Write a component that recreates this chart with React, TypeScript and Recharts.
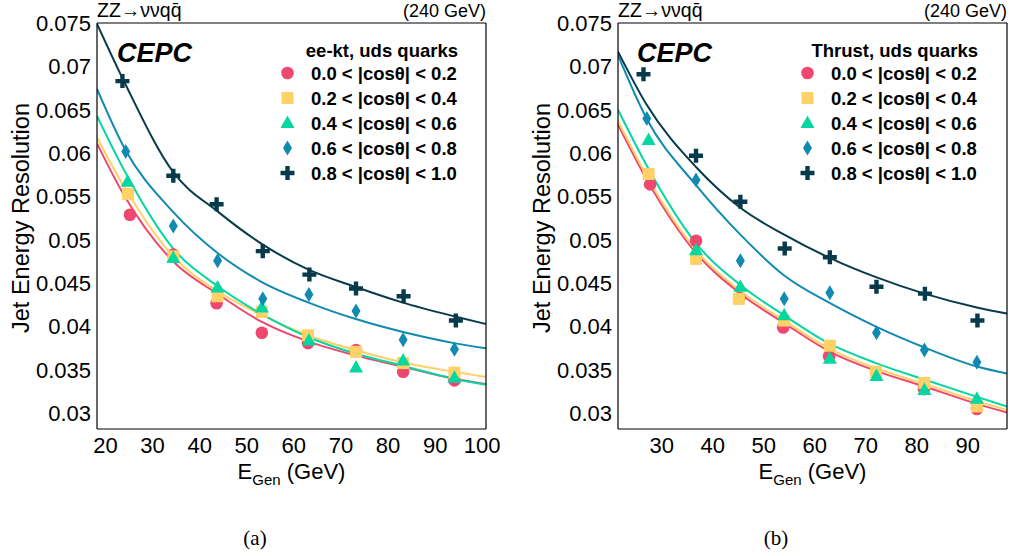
import { ComposedChart, Line, Scatter, XAxis, YAxis } from "recharts"

const COS_BINS = [
  "0.0 < |cosθ| < 0.2",
  "0.2 < |cosθ| < 0.4",
  "0.4 < |cosθ| < 0.6",
  "0.6 < |cosθ| < 0.8",
  "0.8 < |cosθ| < 1.0",
]

// (a) ee-kt: measured points, E_Gen (GeV) and resolution
const EKT_E_0 = [25.2, 34.4, 43.6, 53.2, 63.0, 73.2, 83.2, 94.1]
const EKT_R_0 = [0.0529, 0.0483, 0.0427, 0.0393, 0.0381, 0.0373, 0.0348, 0.0338]
const EKT_E_1 = [24.8, 34.4, 43.8, 53.2, 63.0, 73.2, 83.2, 94.1]
const EKT_R_1 = [0.0553, 0.0481, 0.0435, 0.0417, 0.039, 0.0371, 0.0358, 0.0347]
const EKT_E_2 = [24.7, 34.4, 43.8, 53.2, 63.2, 73.2, 83.2, 94.1]
const EKT_R_2 = [0.0567, 0.0479, 0.0445, 0.0422, 0.0384, 0.0353, 0.0361, 0.0341]
const EKT_E_3 = [24.3, 34.4, 43.8, 53.4, 63.2, 73.2, 83.2, 94.1]
const EKT_R_3 = [0.0602, 0.0516, 0.0476, 0.0432, 0.0437, 0.0418, 0.0385, 0.0374]
const EKT_E_4 = [23.6, 34.4, 43.6, 53.4, 63.3, 73.2, 83.3, 94.4]
const EKT_R_4 = [0.0683, 0.0574, 0.0541, 0.0487, 0.046, 0.0444, 0.0435, 0.0407]

// (a) fitted curves, read at these energies
const EKT_FIT_E = [18.2, 24, 34.4, 44, 53, 63, 73, 83, 94, 100.8]
const EKT_FIT_0 = [0.0611, 0.0551, 0.0475, 0.0437, 0.0406, 0.0383, 0.0367, 0.0354, 0.034, 0.0334]
const EKT_FIT_1 = [0.0618, 0.0561, 0.0481, 0.044, 0.0414, 0.039, 0.0373, 0.0359, 0.0348, 0.0342]
const EKT_FIT_2 = [0.0643, 0.058, 0.049, 0.0446, 0.0415, 0.0388, 0.0369, 0.0355, 0.034, 0.0333]
const EKT_FIT_3 = [0.0674, 0.0606, 0.0532, 0.0484, 0.0452, 0.0428, 0.0409, 0.0394, 0.0381, 0.0375]
const EKT_FIT_4 = [0.0749, 0.0682, 0.0578, 0.0532, 0.0496, 0.0466, 0.0446, 0.0428, 0.0412, 0.0403]

// (b) Thrust: measured points
const THR_E_0 = [27.7, 36.7, 45.2, 53.8, 62.8, 72.0, 81.4, 91.8]
const THR_R_0 = [0.0564, 0.0499, 0.0433, 0.0399, 0.0366, 0.0347, 0.0328, 0.0305]
const THR_E_1 = [27.4, 36.7, 45.1, 54.0, 62.95, 72.0, 81.5, 91.8]
const THR_R_1 = [0.0576, 0.0478, 0.0432, 0.0407, 0.0378, 0.0348, 0.0335, 0.0308]
const THR_E_2 = [27.4, 36.7, 45.4, 54.0, 62.95, 72.1, 81.5, 91.8]
const THR_R_2 = [0.0615, 0.0488, 0.0446, 0.0413, 0.0363, 0.0343, 0.0327, 0.0317]
const THR_E_3 = [27.05, 36.7, 45.4, 54.0, 62.95, 72.1, 81.5, 91.8]
const THR_R_3 = [0.064, 0.0569, 0.0476, 0.0432, 0.0439, 0.0393, 0.0373, 0.0359]
const THR_E_4 = [26.4, 36.7, 45.4, 54.1, 62.95, 72.1, 81.6, 91.9]
const THR_R_4 = [0.0691, 0.0597, 0.0544, 0.049, 0.048, 0.0446, 0.0438, 0.0407]

// (b) fitted curves
const THR_FIT_E = [21.4, 27, 36.7, 45.4, 54, 63, 72, 81.5, 91.8, 97.7]
const THR_FIT_0 = [0.0633, 0.057, 0.0485, 0.0438, 0.0404, 0.0371, 0.0349, 0.0331, 0.0311, 0.0301]
const THR_FIT_1 = [0.0637, 0.0574, 0.0488, 0.0441, 0.0407, 0.0374, 0.0352, 0.0334, 0.0314, 0.0304]
const THR_FIT_2 = [0.065, 0.0586, 0.0496, 0.0448, 0.0413, 0.038, 0.0358, 0.0339, 0.0319, 0.0308]
const THR_FIT_3 = [0.0713, 0.064, 0.0563, 0.0506, 0.0459, 0.0427, 0.04, 0.0376, 0.0354, 0.0346]
const THR_FIT_4 = [0.0717, 0.0656, 0.0584, 0.0537, 0.0506, 0.0479, 0.0457, 0.0438, 0.0422, 0.0415]

const Y_TICKS = [0.03, 0.035, 0.04, 0.045, 0.05, 0.055, 0.06, 0.065, 0.07, 0.075]
const X_TICKS_A = [20, 30, 40, 50, 60, 70, 80, 90, 100]
const X_TICKS_B = [30, 40, 50, 60, 70, 80, 90]

const Y_DOMAIN: [number, number] = [0.0282, 0.075]

const COLORS = ["#ef476f", "#ffd166", "#06d6a0", "#118ab2", "#073b4c"]
const MARKERS = ["circle", "square", "triangle", "diamond", "cross"]

const FONT = '"Liberation Sans", Arial, sans-serif'

const range = (a: number, b: number, step: number) =>
  Array.from({ length: Math.round((b - a) / step) + 1 }, (_, i) => +(a + i * step).toFixed(4))

const Y_MINOR = range(0.029, 0.075, 0.001)

const zip = (e: number[], v: number[]) => e.map((x, i) => ({ e: x, v: v[i] }))

function drawMarker(kind: string, x: number, y: number, color: string) {
  switch (kind) {
    case "circle":
      return <circle cx={x} cy={y} r={6.3} fill={color} />
    case "square":
      return <rect x={x - 6} y={y - 6} width={12} height={12} fill={color} />
    case "triangle":
      return <polygon points={`${x},${y - 7.5} ${x + 7},${y + 5} ${x - 7},${y + 5}`} fill={color} />
    case "diamond":
      return <polygon points={`${x},${y - 7.5} ${x + 4.5},${y} ${x},${y + 7.5} ${x - 4.5},${y}`} fill={color} />
    default:
      return (
        <path
          d={`M${x - 2.2},${y - 7} h4.4 v4.8 h4.8 v4.4 h-4.8 v4.8 h-4.4 v-4.8 h-4.8 v-4.4 h4.8 z`}
          fill={color}
        />
      )
  }
}

interface PanelProps {
  x0: number
  width: number
  margin: { top: number; right: number; bottom: number; left: number }
  xDomain: [number, number]
  xTicks: number[]
  xMinor: number[]
  points: { e: number; v: number }[][]
  fitE: number[]
  fits: number[][]
  legendTitle: string
  caption: string
  captionX: number
}

const THIN = 0.01

function Panel({ x0, width, margin, xDomain, xTicks, xMinor, points, fitE, fits, legendTitle, caption, captionX }: PanelProps) {
  const plotLeft = margin.left + 90
  const plotRight = width - margin.right
  const frame = { stroke: "#000", strokeWidth: 1.2 }
  const tl = { stroke: "#000", strokeWidth: 1.1 }

  const xTitle = ({ viewBox }: any) => (
    <text x={viewBox.x + viewBox.width / 2} y={viewBox.y + 50} textAnchor="middle" fontSize={22} fontFamily={FONT} fill="#000">
      E<tspan dy={6} fontSize={15}>Gen</tspan>
      <tspan dy={-6}> (GeV)</tspan>
    </text>
  )
  const yTitle = ({ viewBox }: any) => {
    const cx = viewBox.x + 14
    const cy = viewBox.y + 195
    return (
      <text x={cx} y={cy} transform={`rotate(-90 ${cx} ${cy})`} textAnchor="middle" dominantBaseline="central" fontSize={23.5} fontFamily={FONT} fill="#000">
        Jet Energy Resolution
      </text>
    )
  }

  return (
    <div style={{ position: "absolute", left: x0, top: 0, width, height: 556 }}>
      <ComposedChart width={width} height={500} margin={margin}>
        {/* frame with inward ticks */}
        <XAxis xAxisId="bMaj" orientation="bottom" mirror type="number" domain={xDomain} allowDataOverflow ticks={xTicks} interval={0} tick={false} tickSize={11} height={THIN} axisLine={frame} tickLine={tl} />
        <XAxis xAxisId="bMin" orientation="bottom" mirror type="number" domain={xDomain} allowDataOverflow ticks={xMinor} interval={0} tick={false} tickSize={5} height={THIN} axisLine={false} tickLine={tl} />
        <XAxis xAxisId="tMaj" orientation="top" mirror type="number" domain={xDomain} allowDataOverflow ticks={xTicks} interval={0} tick={false} tickSize={11} height={THIN} axisLine={frame} tickLine={tl} />
        <XAxis xAxisId="tMin" orientation="top" mirror type="number" domain={xDomain} allowDataOverflow ticks={xMinor} interval={0} tick={false} tickSize={5} height={THIN} axisLine={false} tickLine={tl} />
        <YAxis yAxisId="lMaj" orientation="left" mirror type="number" domain={Y_DOMAIN} allowDataOverflow ticks={Y_TICKS} interval={0} tick={false} tickSize={12} width={THIN} axisLine={frame} tickLine={tl} />
        <YAxis yAxisId="lMin" orientation="left" mirror type="number" domain={Y_DOMAIN} allowDataOverflow ticks={Y_MINOR} interval={0} tick={false} tickSize={6} width={THIN} axisLine={false} tickLine={tl} />
        <YAxis yAxisId="rMaj" orientation="right" mirror type="number" domain={Y_DOMAIN} allowDataOverflow ticks={Y_TICKS} interval={0} tick={false} tickSize={12} width={THIN} axisLine={frame} tickLine={tl} />
        <YAxis yAxisId="rMin" orientation="right" mirror type="number" domain={Y_DOMAIN} allowDataOverflow ticks={Y_MINOR} interval={0} tick={false} tickSize={6} width={THIN} axisLine={false} tickLine={tl} />

        <XAxis
          xAxisId="main"
          dataKey="e"
          type="number"
          domain={xDomain}
          allowDataOverflow
          ticks={xTicks}
          interval={0}
          tickLine={false}
          axisLine={false}
          tickSize={0}
          tickMargin={8}
          height={60}
          tick={{ fontSize: 22, fill: "#000", fontFamily: FONT }}
          label={xTitle}
        />
        <YAxis
          yAxisId="main"
          dataKey="v"
          type="number"
          domain={Y_DOMAIN}
          allowDataOverflow
          ticks={Y_TICKS}
          interval={0}
          tickLine={false}
          axisLine={false}
          tickSize={0}
          tickMargin={6}
          width={90}
          tick={{ fontSize: 22, fill: "#000", fontFamily: FONT }}
          label={yTitle}
        />

        {fits.map((f, i) => (
          <Line
            key={`fit${i}`}
            xAxisId="main"
            yAxisId="main"
            data={zip(fitE, f)}
            dataKey="v"
            type="monotone"
            stroke={COLORS[i]}
            strokeWidth={2}
            dot={false}
            activeDot={false}
            isAnimationActive={false}
          />
        ))}
        {points.map((p, i) => (
          <Scatter
            key={`pts${i}`}
            xAxisId="main"
            yAxisId="main"
            data={p}
            dataKey="v"
            fill={COLORS[i]}
            shape={(props: any) => drawMarker(MARKERS[i], props.cx, props.cy, COLORS[i])}
            isAnimationActive={false}
          />
        ))}
      </ComposedChart>

      <svg width={width} height={556} style={{ position: "absolute", left: 0, top: 0, pointerEvents: "none" }}>
        <text x={plotLeft} y={17} fontSize={19.5} fontFamily={FONT} fill="#000">
          {"ZZ→ννqq\u0304"}
        </text>
        <text x={plotRight} y={17} textAnchor="end" fontSize={18} fontFamily={FONT} fill="#000">
          (240 GeV)
        </text>
        <text x={117} y={61.5} fontSize={27} fontWeight="bold" fontStyle="italic" fontFamily={FONT} fill="#000">
          CEPC
        </text>
        <text x={458} y={56.6} textAnchor="end" fontSize={18.5} fontWeight="bold" fontFamily={FONT} fill="#000">
          {legendTitle}
        </text>
        {COS_BINS.map((label, i) => {
          const cy = 73 + i * 25
          return (
            <g key={label}>
              {drawMarker(MARKERS[i], 287.5, cy, COLORS[i])}
              <text x={311} y={cy + 6.6} fontSize={18.5} fontWeight="bold" fontFamily={FONT} fill="#000">
                {label}
              </text>
            </g>
          )
        })}
        <text x={captionX} y={545} textAnchor="middle" fontSize={21} fontFamily='"Liberation Serif", "Times New Roman", serif' fill="#000">
          {caption}
        </text>
      </svg>
    </div>
  )
}

export default function App() {
  const ektPoints = [
    zip(EKT_E_0, EKT_R_0),
    zip(EKT_E_1, EKT_R_1),
    zip(EKT_E_2, EKT_R_2),
    zip(EKT_E_3, EKT_R_3),
    zip(EKT_E_4, EKT_R_4),
  ]
  const thrPoints = [
    zip(THR_E_0, THR_R_0),
    zip(THR_E_1, THR_R_1),
    zip(THR_E_2, THR_R_2),
    zip(THR_E_3, THR_R_3),
    zip(THR_E_4, THR_R_4),
  ]

  return (
    <div style={{ position: "absolute", left: 0, top: 0, width: 1012, height: 556, background: "#fff", overflow: "hidden" }}>
      <Panel
        x0={0}
        width={500}
        margin={{ top: 23, right: 14, bottom: 11, left: 7 }}
        xDomain={[18.2, 100.8]}
        xTicks={X_TICKS_A}
        xMinor={range(20, 100, 2)}
        points={ektPoints}
        fitE={EKT_FIT_E}
        fits={[EKT_FIT_0, EKT_FIT_1, EKT_FIT_2, EKT_FIT_3, EKT_FIT_4]}
        legendTitle="ee-kt, uds quarks"
        caption="(a)"
        captionX={255}
      />
      <Panel
        x0={520}
        width={492}
        margin={{ top: 23, right: 5, bottom: 11, left: 8 }}
        xDomain={[21.4, 97.7]}
        xTicks={X_TICKS_B}
        xMinor={range(22, 96, 2)}
        points={thrPoints}
        fitE={THR_FIT_E}
        fits={[THR_FIT_0, THR_FIT_1, THR_FIT_2, THR_FIT_3, THR_FIT_4]}
        legendTitle="Thrust, uds quarks"
        caption="(b)"
        captionX={256}
      />
    </div>
  )
}
